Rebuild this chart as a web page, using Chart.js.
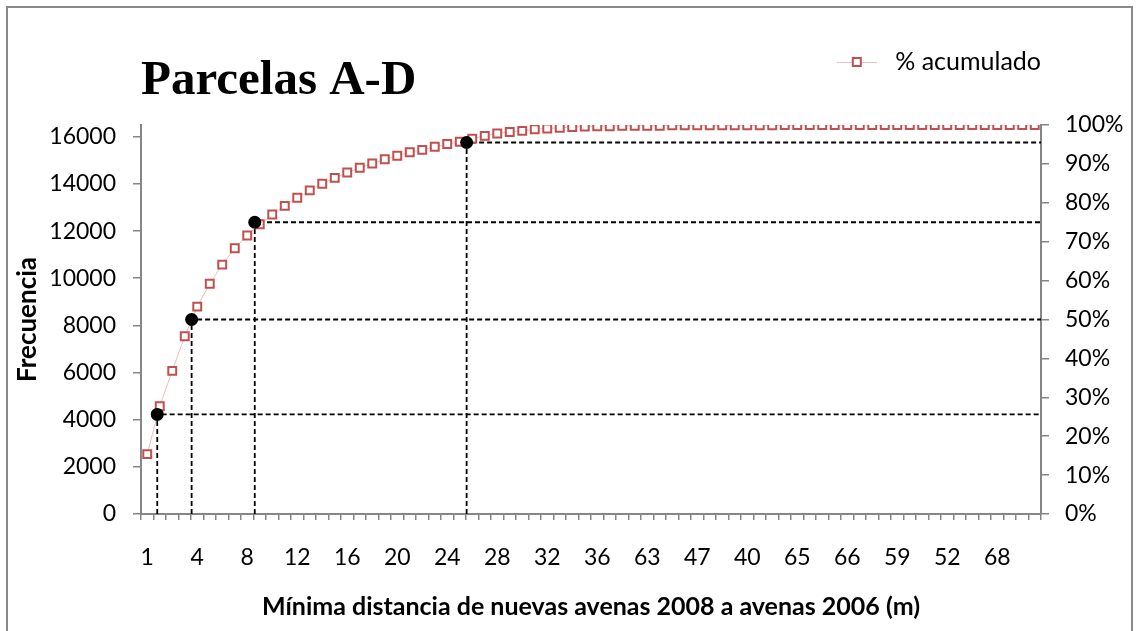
<!DOCTYPE html>
<html>
<head>
<meta charset="utf-8">
<title>Parcelas A-D</title>
<script src="https://cdn.jsdelivr.net/npm/chart.js@4.4.1/dist/chart.umd.min.js"></script>
<style>
  html, body { margin: 0; padding: 0; background: #fff; width: 1140px; height: 631px; overflow: hidden; }
  #frame { position: absolute; left: 6px; top: 6px; width: 1127px; height: 700px; border: 2px solid #8a8a8a; box-sizing: border-box; }
  #c { position: absolute; left: 0; top: 0; }
</style>
</head>
<body>
<div id="frame"></div>
<canvas id="c" width="1140" height="631"></canvas>
<script>
// Distance classes (m) on the category axis
const categories = [
  '1', '1.5', '2', '3', '4', '5', '6', '7', '8', '9', '10', '11', '12', '13', '14', '15',
  '16', '17', '18', '19', '20', '21', '22', '23', '24', '25', '26', '27', '28', '29', '30', '31',
  '32', '33', '34', '35', '36', '37', '38', '39', '63', '41', '42', '44', '47', '43', '45', '46',
  '40', '48', '49', '50', '65', '51', '53', '54', '66', '55', '56', '57', '59', '58', '60', '61',
  '52', '62', '64', '67', '68', '69', '70', '71'
];

// Cumulative percentage per class
const pctAcumulado = [
  15.4, 27.7, 36.8, 45.7, 53.3, 59.2, 64.1, 68.3, 71.6, 74.5, 77.0, 79.2, 81.3, 83.2, 84.9, 86.4,
  87.8, 89.0, 90.1, 91.2, 92.1, 93.0, 93.6, 94.4, 95.1, 95.7, 96.5, 97.2, 97.8, 98.2, 98.5, 98.9,
  99.1, 99.3, 99.5, 99.6, 99.7, 99.7, 99.8, 99.8, 99.8, 99.8, 99.9, 99.9, 99.9, 99.9, 99.9, 99.9,
  99.9, 99.9, 99.9, 100, 100, 100, 100, 100, 100, 100, 100, 100, 100, 100, 100, 100,
  100, 100, 100, 100, 100, 100, 100, 100
];

// Quartile / 95% reference marks: cumulative level and position along the class axis
const quartileLevels = [25.6, 50, 75, 95.5];
const quartilePositions = [0.8, 3.55, 8.6, 25.55];

// Axis ticks
const freqTicks = [0, 2000, 4000, 6000, 8000, 10000, 12000, 14000, 16000];
const freqMax = 16500;
const pctTicks = [0, 10, 20, 30, 40, 50, 60, 70, 80, 90, 100];

const axisGray = '#868686';
const markerRed = '#c0504d';
const linePink = 'rgba(217, 150, 148, 0.6)';
const textFont = 'Lato, "Open Sans", "DejaVu Sans", sans-serif';

Chart.defaults.font.family = textFont;
Chart.defaults.color = '#000';

const lastEdge = categories.length - 0.5;

// Legend icon: short line with a hollow square marker
const legendIcon = document.createElement('canvas');
legendIcon.width = 52;
legendIcon.height = 12;
(function () {
  const g = legendIcon.getContext('2d');
  g.strokeStyle = linePink;
  g.lineWidth = 1;
  g.beginPath();
  g.moveTo(6, 6.5);
  g.lineTo(46, 6.5);
  g.stroke();
  g.fillStyle = '#fff';
  g.fillRect(22, 2, 8, 8);
  g.strokeStyle = markerRed;
  g.lineWidth = 2;
  g.strokeRect(22, 2, 8, 8);
})();

const quartileDots = quartileLevels.map((lv, i) => ({ x: quartilePositions[i], y: lv }));
const quartileGuides = quartileLevels.map((lv, i) => ({
  type: 'line',
  label: 'guia' + i,
  xAxisID: 'xq',
  yAxisID: 'yPct',
  data: [
    { x: quartilePositions[i], y: 0 },
    { x: quartilePositions[i], y: lv },
    { x: lastEdge, y: lv }
  ],
  borderColor: '#000',
  borderWidth: 1.8,
  borderDash: [5, 3],
  pointRadius: 0,
  fill: false,
  tension: 0,
  order: 3
}));

new Chart(document.getElementById('c'), {
  type: 'line',
  data: {
    labels: categories,
    datasets: [
      {
        label: '% acumulado',
        data: pctAcumulado,
        xAxisID: 'x',
        yAxisID: 'yPct',
        borderColor: linePink,
        borderWidth: 1,
        pointStyle: 'rect',
        pointRadius: 5.6,
        pointBorderWidth: 2,
        pointBorderColor: markerRed,
        pointBackgroundColor: '#fff',
        tension: 0,
        fill: false,
        order: 1
      },
      {
        type: 'line',
        label: 'cuartiles',
        xAxisID: 'xq',
        yAxisID: 'yPct',
        data: quartileDots,
        showLine: false,
        pointRadius: 6.5,
        pointBackgroundColor: '#000',
        pointBorderColor: '#000',
        pointBorderWidth: 0,
        order: 0
      },
      ...quartileGuides
    ]
  },
  options: {
    responsive: false,
    animation: false,
    events: [],
    layout: { padding: { top: 49.5, left: 0, right: 0, bottom: 0 } },
    plugins: {
      tooltip: { enabled: false },
      title: {
        display: true,
        text: 'Parcelas A-D',
        align: 'start',
        fullSize: false,
        weight: 1000,
        color: '#000',
        font: { family: '"Liberation Serif", "DejaVu Serif", serif', size: 49, weight: 'bold', lineHeight: 1.2 },
        padding: { top: -32.9, bottom: 14.6 }
      },
      legend: {
        display: true,
        position: 'top',
        align: 'end',
        fullSize: false,
        weight: 3000,
        labels: {
          usePointStyle: true,
          pointStyle: legendIcon,
          pointStyleWidth: 52,
          color: '#000',
          padding: 0,
          font: { size: 25 },
          filter: (item) => item.datasetIndex === 0
        }
      }
    },
    scales: {
      x: {
        type: 'category',
        position: 'bottom',
        offset: true,
        afterFit: (s) => { s.height = 117; },
        grid: {
          display: true,
          offset: true,
          drawOnChartArea: false,
          drawTicks: true,
          tickLength: 6,
          color: axisGray,
          lineWidth: 1.5
        },
        border: { display: true, color: axisGray, width: 2 },
        ticks: {
          autoSkip: false,
          maxRotation: 0,
          minRotation: 0,
          padding: 24,
          color: '#000',
          font: { size: 23 },
          callback: function (value, index) {
            return index % 4 === 0 ? this.getLabelForValue(value) : '';
          }
        },
        title: {
          display: true,
          text: 'Mínima distancia de nuevas avenas 2008 a avenas 2006 (m)',
          color: '#000',
          font: { size: 25, weight: 'bold' },
          padding: { top: 0, bottom: 9 }
        }
      },
      xq: {
        type: 'linear',
        display: false,
        min: -0.5,
        max: lastEdge
      },
      yFreq: {
        type: 'linear',
        position: 'left',
        display: true,
        min: 0,
        max: freqMax,
        afterFit: (s) => { s.width = 141; },
        afterBuildTicks: (s) => { s.ticks = freqTicks.map((v) => ({ value: v })); },
        grid: {
          drawOnChartArea: false,
          drawTicks: true,
          tickLength: 8,
          color: axisGray,
          lineWidth: 1.5
        },
        border: { display: true, color: axisGray, width: 2 },
        ticks: {
          padding: 17,
          color: '#000',
          font: { size: 23 },
          callback: (v) => String(v)
        },
        title: {
          display: true,
          text: 'Frecuencia',
          color: '#000',
          font: { size: 26, weight: 'bold' },
          padding: { top: 12, bottom: 0 }
        }
      },
      yPct: {
        type: 'linear',
        position: 'right',
        min: 0,
        max: 100,
        afterFit: (s) => { s.width = 99; },
        afterBuildTicks: (s) => { s.ticks = pctTicks.map((v) => ({ value: v })); },
        grid: {
          drawOnChartArea: false,
          drawTicks: true,
          tickLength: 8,
          color: axisGray,
          lineWidth: 1.5
        },
        border: { display: true, color: axisGray, width: 2 },
        ticks: {
          padding: 16,
          color: '#000',
          font: { size: 23 },
          callback: (v) => v + '%'
        }
      }
    }
  }
});
</script>
</body>
</html>
